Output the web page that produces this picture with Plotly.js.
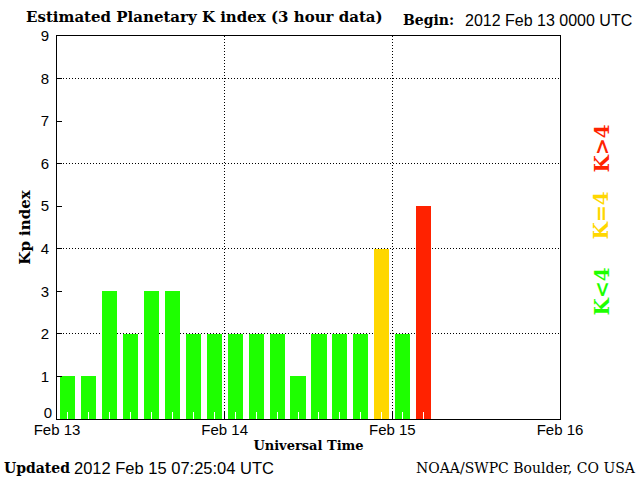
<!DOCTYPE html>
<html><head><meta charset="utf-8">
<script src="https://cdn.plot.ly/plotly-3.0.1.min.js"></script>
<style>body{margin:0;background:#fff}#chart{width:640px;height:480px}</style>
</head><body><div id="chart"></div>
<script>
// 3-hour bin centres (UTC)
const binCenters = [
  "2012-02-13 01:30","2012-02-13 04:30","2012-02-13 07:30","2012-02-13 10:30",
  "2012-02-13 13:30","2012-02-13 16:30","2012-02-13 19:30","2012-02-13 22:30",
  "2012-02-14 01:30","2012-02-14 04:30","2012-02-14 07:30","2012-02-14 10:30",
  "2012-02-14 13:30","2012-02-14 16:30","2012-02-14 19:30","2012-02-14 22:30",
  "2012-02-15 01:30","2012-02-15 04:30"
];
const kpValues = [1,1,3,2,3,3,2,2,2,2,2,1,2,2,2,4,2,5];
const dayTicks = ["2012-02-13","2012-02-14","2012-02-15","2012-02-16"];
const dayLabels = ["Feb 13","Feb 14","Feb 15","Feb 16"];
const yTicks = [0,1,2,3,4,5,6,7,8,9];
const yGridVals = [0,2,4,6,8];
const colorLow = "#1eff00", colorMid = "#ffd700", colorHigh = "#ff2200";

const barColors = kpValues.map(v => v < 4 ? colorLow : (v === 4 ? colorMid : colorHigh));
const barWidthMs = 3 * 3600 * 1000 * 0.72;

const SERIF = "DejaVu Serif";
const SANS = "Liberation Sans";

const traces = [
  {type: "bar", x: binCenters, y: kpValues, width: barWidthMs,
   marker: {color: barColors, line: {width: 0}}, xaxis: "x", yaxis: "y", hoverinfo: "skip"},
  {type: "scatter", x: [], y: [], xaxis: "x2", yaxis: "y"},
  {type: "scatter", x: [], y: [], xaxis: "x", yaxis: "y2"}
];

const xRange = [dayTicks[0], dayTicks[dayTicks.length - 1]];
const tickFont = {family: SANS, size: 15, color: "#000"};

const layout = {
  width: 640, height: 480,
  margin: {l: 57, r: 80, t: 36, b: 61},
  paper_bgcolor: "#fff", plot_bgcolor: "#fff",
  showlegend: false,
  bargap: 0,
  font: {family: SANS, size: 15, color: "#000"},
  title: {text: "Estimated Planetary K index (3 hour data)",
    font: {family: SERIF, size: 15, weight: "bold", color: "#000"},
    xref: "container", yref: "container", x: 26/640, xanchor: "left", y: 1 - 17/480, yanchor: "middle"},
  // main x axis: white bin ticks drawn over the bars, frame line
  xaxis: {type: "date", range: xRange, tickvals: binCenters, showticklabels: false,
    ticks: "inside", ticklen: 7, tickcolor: "#fff", tickwidth: 1,
    layer: "above traces", showgrid: false,
    showline: true, linecolor: "#000", linewidth: 1, mirror: true, zeroline: false},
  // overlay x axis: day ticks, labels, dotted grid, title
  xaxis2: {type: "date", range: xRange, overlaying: "x", anchor: "y", side: "bottom",
    tickvals: dayTicks, ticktext: dayLabels,
    ticks: "inside", ticklen: 7, tickcolor: "#000", tickwidth: 1,
    showgrid: true, gridcolor: "#000", gridwidth: 1, griddash: "1px,2px",
    showline: false, zeroline: false, ticklabelstandoff: 0, tickfont: tickFont,
    title: {text: "Universal Time", font: {family: SERIF, size: 13, weight: "bold", color: "#000"}, standoff: 3}},
  yaxis: {range: [0, 9], tickvals: yTicks, ticktext: yTicks.map(v => v === 0 ? "" : String(v)),
    ticks: "inside", ticklen: 5, tickcolor: "#000",
    showgrid: false, showline: true, linecolor: "#000", linewidth: 1, mirror: true,
    zeroline: false, ticklabelstandoff: 4, tickfont: tickFont,
    title: {text: "Kp index", font: {family: SERIF, size: 15, weight: "bold", color: "#000"}, standoff: 6}},
  yaxis2: {range: [0, 9], overlaying: "y", anchor: "x", side: "left", tickvals: yGridVals,
    ticktext: yGridVals.map(v => v === 0 ? "0" : ""), ticklabelshift: -6,
    ticklabelstandoff: 4, tickfont: tickFont,
    ticks: "", showticklabels: true, showgrid: true, gridcolor: "#000", gridwidth: 1,
    griddash: "1px,2px", showline: false, zeroline: false},
  annotations: [
    {text: "Begin:", xref: "paper", yref: "paper", x: (401-57)/503, y: (419-20)/383,
     xanchor: "left", yanchor: "middle", showarrow: false,
     font: {family: SERIF, size: 14, weight: "bold", color: "#000"}},
    {text: "2012 Feb 13 0000 UTC", xref: "paper", yref: "paper", x: (463-57)/503, y: (419-20)/383,
     xanchor: "left", yanchor: "middle", showarrow: false,
     font: {family: SANS, size: 16, color: "#000"}},
    {text: "Updated", xref: "paper", yref: "paper", x: (2-57)/503, y: (419-468)/383,
     xanchor: "left", yanchor: "middle", showarrow: false,
     font: {family: SERIF, size: 14, weight: "bold", color: "#000"}},
    {text: "2012 Feb 15 07:25:04 UTC", xref: "paper", yref: "paper", x: (72-57)/503, y: (419-468)/383,
     xanchor: "left", yanchor: "middle", showarrow: false,
     font: {family: SANS, size: 16.5, color: "#000"}},
    {text: "NOAA/SWPC Boulder, CO USA", xref: "paper", yref: "paper", x: (638-57)/503, y: (419-468)/383,
     xanchor: "right", yanchor: "middle", showarrow: false,
     font: {family: SERIF, size: 14, color: "#000"}},
    {text: "K<4", xref: "paper", yref: "paper", x: (601-57)/503, y: (419-291.5)/383,
     xanchor: "center", yanchor: "middle", showarrow: false, textangle: -90,
     font: {family: SERIF, size: 20, weight: "bold", color: colorLow}},
    {text: "K=4", xref: "paper", yref: "paper", x: (601-57)/503, y: (419-215.5)/383,
     xanchor: "center", yanchor: "middle", showarrow: false, textangle: -90,
     font: {family: SERIF, size: 20, weight: "bold", color: colorMid}},
    {text: "K>4", xref: "paper", yref: "paper", x: (601-57)/503, y: (419-148.5)/383,
     xanchor: "center", yanchor: "middle", showarrow: false, textangle: -90,
     font: {family: SERIF, size: 20, weight: "bold", color: colorHigh}}
  ]
};

Plotly.newPlot("chart", traces, layout, {staticPlot: true, displayModeBar: false});
</script>
</body></html>
